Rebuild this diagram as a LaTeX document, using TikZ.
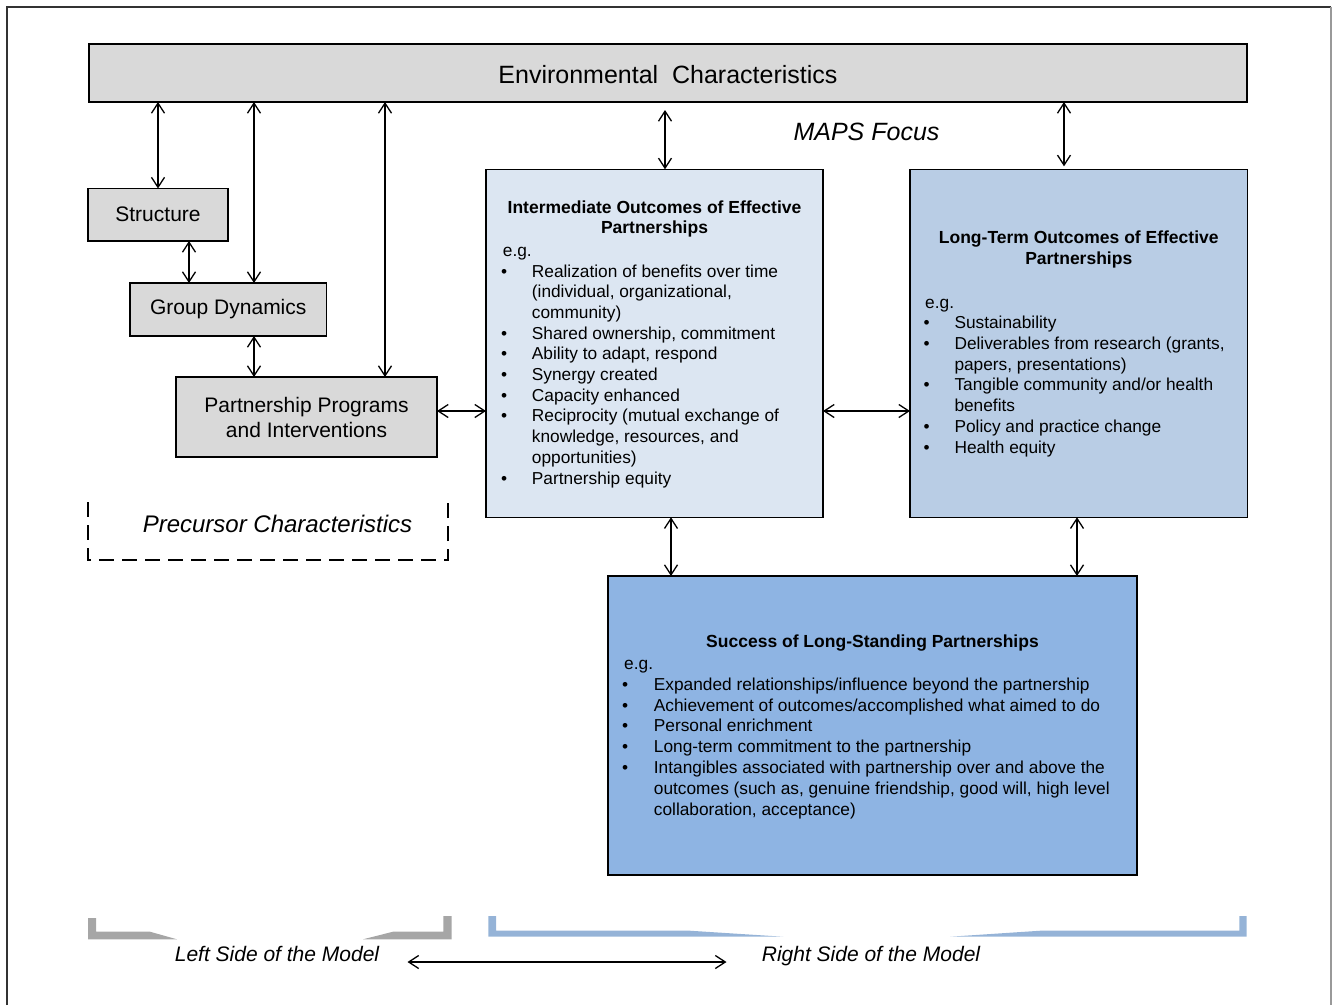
\documentclass[tikz,border=0pt]{standalone}
\usepackage{fontspec}
\setmainfont{Liberation Sans}
\usetikzlibrary{arrows.meta}
\definecolor{boxgray}{HTML}{D9D9D9}
\definecolor{imblue}{HTML}{DCE6F2}
\definecolor{ltblue}{HTML}{B9CDE5}
\definecolor{sublue}{HTML}{8EB4E3}
\definecolor{brgray}{HTML}{A6A6A6}
\definecolor{brblue}{HTML}{95B3D7}
\tikzset{
 box/.style={draw=black, line width=1.6pt, inner sep=0pt, outer sep=0pt},
 lbl/.style={font=\fontsize{21}{25}\selectfont, align=center},
 body/.style={font=\fontsize{17.3}{20.8}\selectfont, inner sep=0pt, anchor=base west},
 ttl/.style={font=\bfseries\fontsize{17.5}{21}\selectfont, inner sep=0pt, anchor=base},
 ital/.style={font=\itshape, inner sep=0pt, anchor=base},
 dar/.style={line width=1.3pt, {Straight Barb[length=10pt,width=13pt]}-{Straight Barb[length=10pt,width=13pt]}},
}
\begin{document}
\begin{tikzpicture}[x=1pt,y=-1pt]
\useasboundingbox (0,0) rectangle (1333,1005);
% outer frame
\draw[line width=2pt, draw=black!80] (6.7,1005) -- (6.7,6.7) -- (1331,6.7);
\draw[line width=1.5pt, draw=black!40] (1331,6.7) -- (1331,1005);

% boxes
\node[box, fill=boxgray, minimum width=1158pt, minimum height=58pt] (env) at (668,73) {};
\node[ital, font=\fontsize{25}{30}\selectfont] (envt) at (668,83.3) {Environmental\ \ Characteristics};
\node[box, fill=boxgray, minimum width=140pt, minimum height=52.5pt, lbl] (struct) at (158,214.75) {Structure};
\node[box, fill=boxgray, minimum width=196.5pt, minimum height=53pt, lbl] (gd) at (228.25,309.5) {Group Dynamics};
\node[box, fill=boxgray, minimum width=261pt, minimum height=80pt, lbl] (ppi) at (306.5,417) {Partnership Programs\\and Interventions};
\node[box, fill=imblue, minimum width=337pt, minimum height=348pt] (im) at (654.5,343.3) {};
\node[box, fill=ltblue, minimum width=337.5pt, minimum height=348pt] (lt) at (1078.75,343.3) {};
\node[box, fill=sublue, minimum width=529pt, minimum height=299pt] (su) at (872.5,725.5) {};

% MAPS focus
\node[ital, font=\itshape\fontsize{25}{30}\selectfont] (maps) at (866.5,140) {MAPS Focus};

% precursor
\draw[line width=2pt, dash pattern=on 15pt off 8pt] (88,502) -- (88,560) -- (448,560) -- (448,502);
\node[ital, font=\itshape\fontsize{24}{29}\selectfont] (prec) at (277.5,532.7) {Precursor Characteristics};

% intermediate text
\node[ttl] (imt1) at (654.5,213.3) {Intermediate Outcomes of Effective};
\node[ttl] (imt2) at (654.5,233.5) {Partnerships};
\node[body] (imeg) at (502.7,256.3) {e.g.};
\foreach \b/\t [count=\i from 0] in {1/{Realization of benefits over time},0/{(individual, organizational,},0/{community)},1/{Shared ownership, commitment},1/{Ability to adapt, respond},1/{Synergy created},1/{Capacity enhanced},1/{Reciprocity (mutual exchange of},0/{knowledge, resources, and},0/{opportunities)},1/{Partnership equity}}{
  \node[body] (imx\i) at (531.7,{277+20.7*\i}) {\t};
  \ifnum\b=1 \node[body] (imb\i) at (501,{277+20.7*\i}) {\textbullet};\fi
}

% long-term text
\node[ttl] (ltt1) at (1078.75,243.5) {Long-Term Outcomes of Effective};
\node[ttl] (ltt2) at (1078.75,264.2) {Partnerships};
\node[body] (lteg) at (925,308.3) {e.g.};
\foreach \b/\t [count=\i from 0] in {1/{Sustainability},1/{Deliverables from research (grants,},0/{papers, presentations)},1/{Tangible community and/or health},0/{benefits},1/{Policy and practice change},1/{Health equity}}{
  \node[body] (ltx\i) at (954.3,{328.5+20.75*\i}) {\t};
  \ifnum\b=1 \node[body] (ltb\i) at (923.5,{328.5+20.75*\i}) {\textbullet};\fi
}

% success text
\node[ttl] (sut) at (872.5,647.3) {Success of Long-Standing Partnerships};
\node[body] (sueg) at (624,669.3) {e.g.};
\foreach \b/\t [count=\i from 0] in {1/{Expanded relationships/influence beyond the partnership},1/{Achievement of outcomes/accomplished what aimed to do},1/{Personal enrichment},1/{Long-term commitment to the partnership},1/{Intangibles associated with partnership over and above the},0/{outcomes (such as, genuine friendship, good will, high level},0/{collaboration, acceptance)}}{
  \node[body] (sux\i) at (653.7,{690.3+20.8*\i}) {\t};
  \ifnum\b=1 \node[body] (sub\i) at (622,{690.3+20.8*\i}) {\textbullet};\fi
}

% connector x positions
\coordinate (x158) at (158,0);
\coordinate (x189) at (189,0);
\coordinate (x254) at (254,0);
\coordinate (x385) at (385,0);
\coordinate (x665) at (665,0);
\coordinate (x671) at (671,0);
\coordinate (x1064) at (1064,0);
\coordinate (x1077) at (1077,0);
\coordinate (y411) at (0,411);

\draw[dar] (env.south -| x158) -- (struct.north -| x158);
\draw[dar] (env.south -| x254) -- (gd.north -| x254);
\draw[dar] (env.south -| x385) -- (ppi.north -| x385);
\draw[dar, shorten <=8pt] (env.south -| x665) -- (im.north -| x665);
\draw[dar, shorten >=3pt] (env.south -| x1064) -- (lt.north -| x1064);
\draw[dar] (struct.south -| x189) -- (gd.north -| x189);
\draw[dar] (gd.south -| x254) -- (ppi.north -| x254);
\draw[dar] (ppi.east |- y411) -- (im.west |- y411);
\draw[dar] (im.east |- y411) -- (lt.west |- y411);
\draw[dar] (im.south -| x671) -- (su.north -| x671);
\draw[dar] (lt.south -| x1077) -- (su.north -| x1077);

% bottom brackets
\fill[brgray] (88,918) -- (96,918) -- (96,931.7) -- (150,931.7) -- (177,939.3) -- (88,939.3) -- cycle;
\fill[brgray] (363,939.3) -- (393,931.7) -- (443.3,931.7) -- (443.3,916) -- (451.7,916) -- (451.7,939.3) -- cycle;
\fill[brblue] (488.3,916) -- (496,916) -- (496,930.5) -- (686.7,930.5) -- (783.3,936.7) -- (488.3,936.7) -- cycle;
\fill[brblue] (950,936.7) -- (1043.3,930.5) -- (1239.3,930.5) -- (1239.3,916) -- (1246.7,916) -- (1246.7,936.7) -- cycle;

\node[ital, font=\itshape\fontsize{21}{25}\selectfont] (lside) at (277,961.7) {Left Side of the Model};
\node[ital, font=\itshape\fontsize{21}{25}\selectfont] (rside) at (871,961.7) {Right Side of the Model};
\coordinate (la) at (407.5,962);
\coordinate (ra) at (726.5,962);
\draw[dar] (la) -- (ra);
\end{tikzpicture}
\end{document}
